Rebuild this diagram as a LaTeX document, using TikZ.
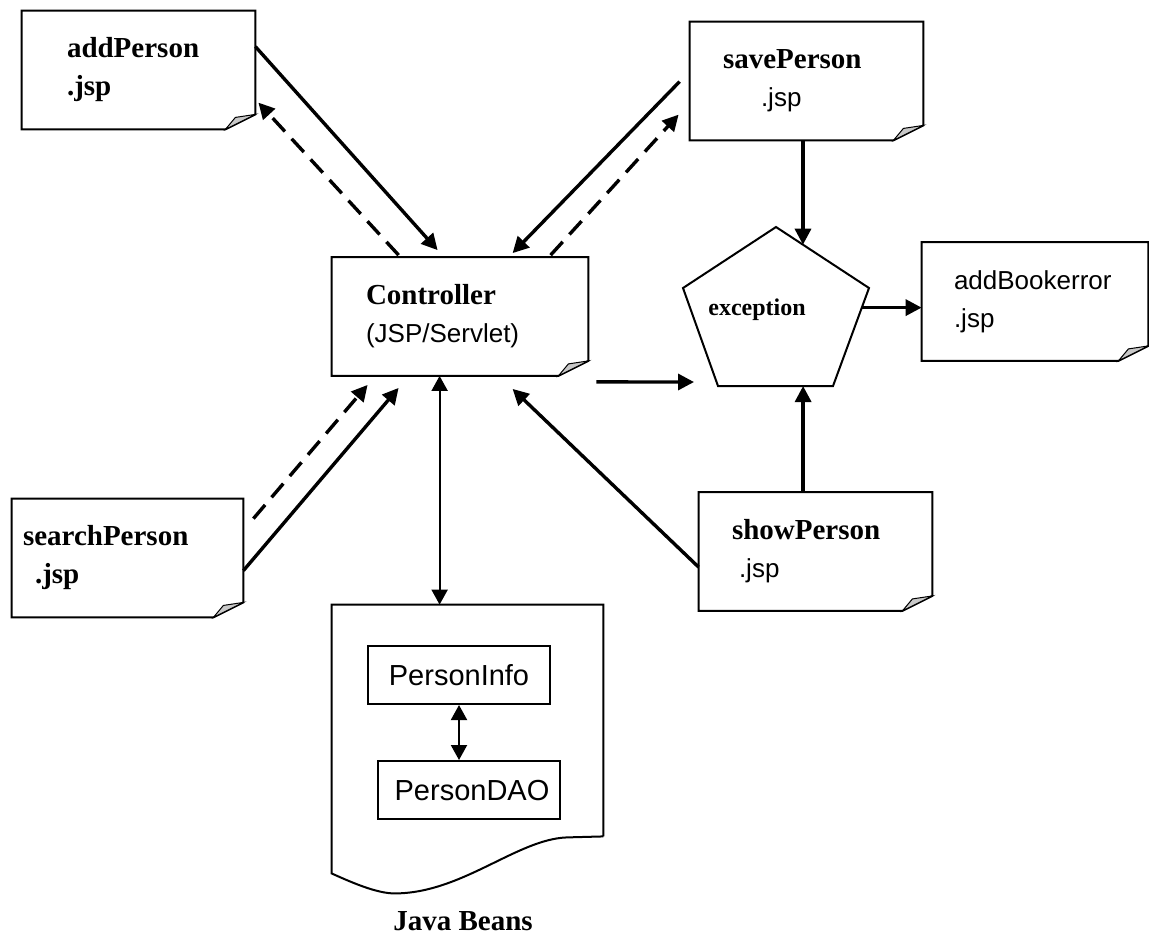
\documentclass[tikz,border=0pt]{standalone}
\usepackage{fontspec}
\setmainfont{Liberation Serif}
\newfontfamily\arialfam{Liberation Sans}
\usetikzlibrary{calc,arrows.meta}
\definecolor{flapgray}{RGB}{200,200,200}
\newcommand{\jspfont}{\arialfam\mdseries\fontsize{13}{19}\selectfont}

\tikzset{
  page/.style={minimum height=59pt, inner ysep=0pt, align=left,
    font=\fontsize{14.5}{19}\selectfont,
    append after command={\pgfextra{
      \draw[line width=1pt] (\tikzlastnode.north west) -- (\tikzlastnode.north east)
        -- ([yshift=7.5pt]\tikzlastnode.south east) -- ([xshift=-15pt]\tikzlastnode.south east)
        -- (\tikzlastnode.south west) -- cycle;
      \draw[line width=0.5pt,fill=flapgray] ([xshift=-15pt]\tikzlastnode.south east)
        -- ([xshift=-10pt,yshift=6pt]\tikzlastnode.south east)
        -- ([yshift=7.5pt]\tikzlastnode.south east) -- cycle;}}},
  arr/.style={-{Triangle[length=8pt,width=8pt]}, line width=1.7pt},
  dasharr/.style={arr, dash pattern=on 9pt off 5pt},
  thinarr/.style={{Triangle[length=7.5pt,width=8pt]}-{Triangle[length=7.5pt,width=8pt]}, line width=1pt},
  bean/.style={draw, line width=1pt, minimum width=91pt, minimum height=29pt,
    font=\arialfam\fontsize{14.5}{17}\selectfont}
}

\begin{document}
\begin{tikzpicture}[x=0.5pt,y=-0.5pt]
  \useasboundingbox (0,0) rectangle (1149,934);
  % pages
  \node[page, text width=71.5pt, inner xsep=22.5pt] (addp) at (138.5,70) {\bfseries addPerson\\\bfseries .jsp};
  \node[page, text width=94pt, inner xsep=17pt] (ctrl) at (460,316.5) {\bfseries Controller\\{\jspfont (JSP/Servlet)}};
  \node[page, text width=83.5pt, inner xsep=16.5pt] (savep) at (806.5,81) {\bfseries savePerson\\\hspace*{19pt}{\jspfont .jsp}};
  \node[page, text width=81pt, inner xsep=16pt] (errp) at (1035,301.5) {\jspfont addBookerror\\.jsp};
  \node[page, text width=83.5pt, inner xsep=16.5pt] (showp) at (815.5,551.5) {\bfseries showPerson\\\hspace*{3.5pt}{\jspfont .jsp}};
  \node[page, text width=104.5pt, inner xsep=5.5pt] (searchp) at (127.5,558) {\bfseries searchPerson\\\hspace*{6pt}\bfseries .jsp};

  % exception
  \draw[line width=1pt] (776,227) coordinate (p1) -- (869,288) coordinate (p2) -- (833,386) coordinate (p3)
    -- (718,386) coordinate (p4) -- (683,288) coordinate (p5) -- cycle;
  \node[font=\bfseries\fontsize{12}{14}\selectfont] (exc) at (757,310) {exception};
  \coordinate (exc-top) at ($(p1)!0.29!(p2)$);
  \coordinate (exc-bot) at ($(p4)!0.74!(p3)$);
  \coordinate (exc-out) at ($(p2)!0.2!(p3)$);
  \coordinate (exc-in) at (694,382);

  % java beans
  \node[minimum width=135.5pt, minimum height=115.5pt, inner sep=0pt] (beans) at (467.5,720.5) {};
  \draw[line width=1pt] (beans.south east) -- (beans.north east) -- (beans.north west)
    -- ($(beans.south west)+(0,37)$)
    .. controls ($(beans.south west)+(20,46)$) and ($(beans.south west)+(45,57)$) .. ($(beans.south west)+(63,57)$)
    .. controls ($(beans.south west)+(130,57)$) and ($(beans.south west)+(185,3)$) .. ($(beans.south west)+(235,1)$)
    -- (beans.south east);
  \node[bean] (pinfo) at (459,675) {PersonInfo};
  \node[bean] (pdao) at (469,790) {\hspace*{3pt}PersonDAO};
  \node[font=\bfseries\fontsize{14.5}{17}\selectfont, anchor=base] (jb) at (463,930) {Java Beans};

  % connectors
  \draw[arr] ($(addp.north east)+(0,36)$) -- ($(ctrl.north west)+(106,-7)$);
  \draw[dasharr] ($(ctrl.north west)+(67,-2)$) -- ($(addp.north east)+(3,92)$);
  \draw[arr] ($(savep.north west)+(-10,60)$) -- ($(ctrl.north west)+(181,-4)$);
  \draw[dasharr] ($(ctrl.north west)+(219,-2)$) -- ($(savep.north west)+(-11,93)$);
  \draw[arr] ($(searchp.north east)+(0,72)$) -- ($(ctrl.south west)+(67,12)$);
  \draw[dasharr] ($(searchp.north east)+(10,20)$) -- ($(ctrl.south west)+(36,9)$);
  \draw[arr] ($(showp.north west)+(0,75)$) -- ($(ctrl.south west)+(181,13)$);
  \draw[arr] ($(ctrl.south east)+(8,6)$) -- (exc-in);
  \draw[arr] (savep.south -| exc-top) -- (exc-top);
  \draw[arr] (showp.north -| exc-bot) -- (exc-bot);
  \draw[arr] (exc-out) -- (exc-out -| errp.west);
  \draw[thinarr] ($(ctrl.south west)+(108,0)$) -- ($(beans.north west)+(108,0)$);
  \draw[thinarr] (pinfo.south) -- (pinfo.south |- pdao.north);
\end{tikzpicture}
\end{document}
